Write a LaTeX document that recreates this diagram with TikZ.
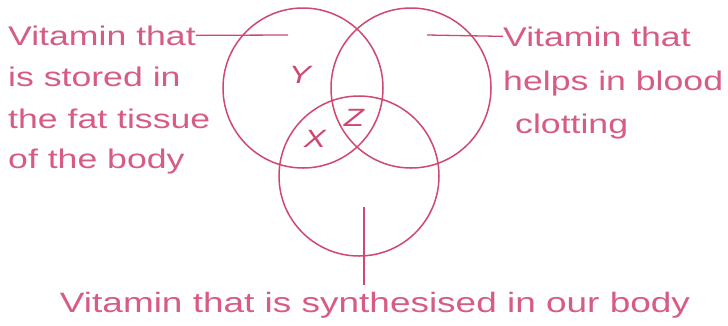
\documentclass[tikz,border=0pt]{standalone}
\usepackage{fontspec}
\setmainfont{Liberation Sans}[FakeStretch=1.32]
\usetikzlibrary{positioning}
\definecolor{vitpink}{RGB}{214,92,132}
\definecolor{ringpink}{RGB}{206,72,112}

\begin{document}
\begin{tikzpicture}[x=1pt, y=-1pt,
            ring/.style={circle, draw=ringpink, line width=1.5pt, minimum size=160pt, inner sep=0pt},
            lbl/.style={text=vitpink, font=\fontsize{27}{41}\selectfont, inner sep=0pt, anchor=base west},
            letter/.style={text=ringpink, font=\fontsize{25}{25}\selectfont\itshape, inner sep=0pt},
            lead/.style={draw=ringpink, line width=1.3pt}
        ]
            \useasboundingbox (0,0) rectangle (728,325);

            % Circles
            \node[ring] (fat) at (303, 88) {};
            \node[ring] (clot) at (411, 88) {};
            \node[ring] (synth) at (359, 176) {};

            % Regions
            \node[letter] (regY) at (300, 75) {Y};
            \node[letter] (regZ) at (354, 118) {Z};
            \node[letter] (regX) at (315, 139) {X};

            % Labels
            \node[lbl] (fatA) at (8, 45) {Vitamin that};
            \node[lbl] (fatB) at (8, 86) {is stored in};
            \node[lbl] (fatC) at (8, 128) {the fat tissue};
            \node[lbl] (fatD) at (8, 168) {of the body};

            \node[lbl] (clotA) at (503, 46) {Vitamin that};
            \node[lbl] (clotB) at (503, 90) {helps in blood};
            \node[lbl] (clotC) at (515, 133) {clotting};

            \node[lbl, anchor=base, font=\fontsize{28}{41}\selectfont] (synthA) at (375, 312) {Vitamin that is synthesised in our body};

            % Leaders
            \coordinate (fatpt) at (288, 35);
            \coordinate (clotpt) at (427, 35);
            \coordinate (synthpt) at (364, 207);
            \draw[lead] (fatA.east) -- (fatpt);
            \draw[lead] (clotpt) -- (clotA.west);
            \draw[lead] (synthpt) -- ([yshift=7pt]synthpt |- synthA.north);
        \end{tikzpicture}
\end{document}
